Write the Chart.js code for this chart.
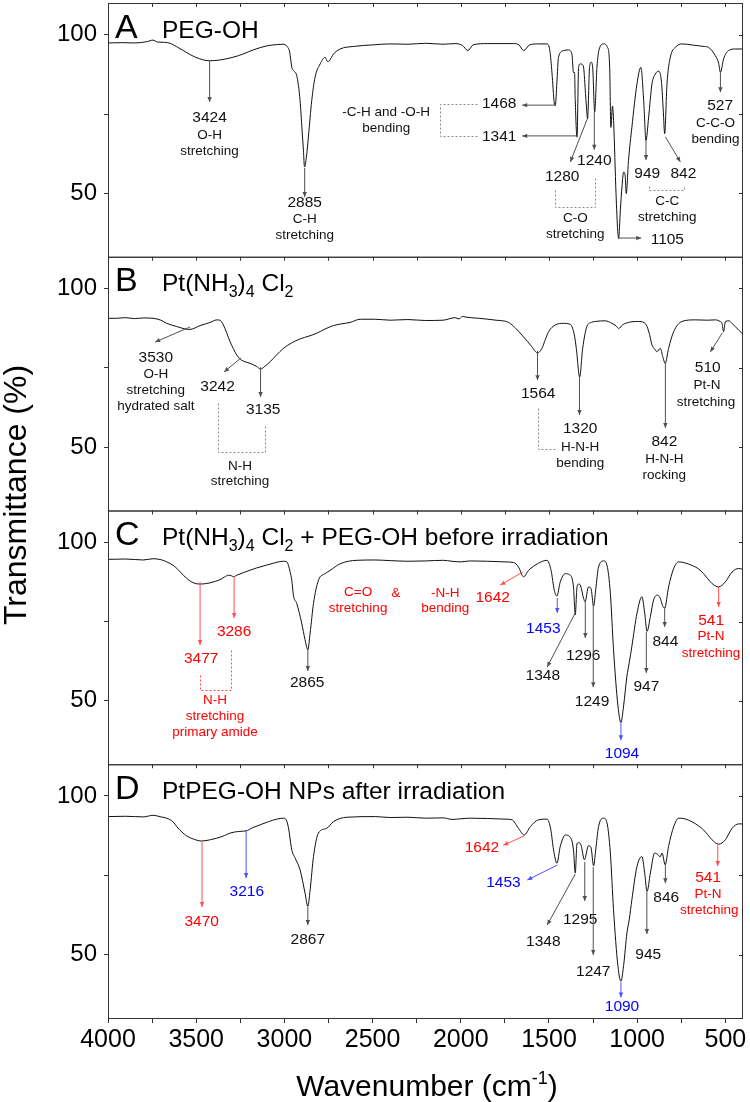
<!DOCTYPE html>
<html>
<head>
<meta charset="utf-8">
<script src="https://cdn.jsdelivr.net/npm/chart.js@4.4.1/dist/chart.umd.min.js"></script>
<style>
  html, body { margin: 0; padding: 0; background: #fff; }
  #wrap { width: 750px; height: 1102px; position: relative; }
</style>
</head>
<body>
<div id="wrap"><canvas id="ftir" width="750" height="1102"></canvas></div>
<script>
// ---- spectra (wavenumber cm-1, transmittance %) ----
const wnA = [4000,3920,3850,3780,3745,3720,3680,3648,3610,3573,3530,3480,3425,3370,3291,3230,3177,3098,3040,3007,2985,2970,2958,2949,2930,2911,2900,2892,2886,2873,2864,2845,2826,2797,2769,2755,2745,2722,2684,2609,2497,2400,2300,2200,2100,2032,1990,1960,1930,1850,1700,1670,1644,1610,1560,1511,1495,1483,1470,1464,1455,1446,1417,1390,1370,1361,1355,1351,1341,1332,1323,1306,1290,1281,1270,1260,1252,1241,1228,1215,1190,1168,1156,1149,1140,1133,1120,1110,1105,1095,1086,1077,1068,1062,1049,1030,1001,979,963,950,935,916,897,878,862,852,844,831,812,784,746,680,620,595,557,538,528,510,482,444,400];
const tA  = [97.4,97.5,97.4,97.8,98.3,97.7,97.6,97.3,96.2,95.0,93.6,92.4,91.8,92.0,92.9,94.0,95.2,96.5,96.9,97.0,96.3,94.5,89.7,88.7,87.1,79.2,70.0,63.5,58.3,62.5,67.7,79.2,86.6,90.8,92.9,91.5,91.8,93.9,95.5,96.3,96.8,97.1,97.0,97.3,97.0,97.2,96.6,95.0,96.8,97.2,97.2,96.8,95.0,96.8,97.1,97.1,95.0,88.0,78.5,77.7,85.0,92.9,95.0,95.2,93.9,88.1,88.1,79.2,67.7,89.7,90.8,90.3,79.2,73.5,89.7,91.3,89.5,75.6,89.7,95.5,97.1,96.0,89.7,70.8,77.5,72.0,50.0,38.0,35.7,45.0,52.0,56.7,55.5,49.9,60.4,70.8,84.5,89.7,79.2,66.7,74.0,84.5,87.6,88.5,85.0,76.0,68.8,84.5,92.9,96.0,97.1,96.7,96.3,96.0,93.4,91.0,88.1,92.4,95.0,95.5,95.5];

const wnB = [4000,3950,3900,3850,3800,3745,3700,3667,3610,3560,3535,3478,3420,3383,3360,3346,3327,3308,3289,3270,3242,3195,3160,3135,3110,3081,3045,3006,2960,2911,2860,2816,2770,2722,2680,2627,2570,2485,2400,2300,2200,2100,2032,2010,1990,1975,1900,1800,1729,1690,1653,1620,1597,1565,1540,1520,1502,1464,1417,1385,1370,1355,1345,1326,1309,1285,1260,1237,1181,1143,1120,1105,1085,1067,992,960,944,930,916,900,888,869,855,841,822,793,746,671,600,557,530,519,510,500,480,462,444,425,406];
const tB  = [90.6,90.6,90.8,90.5,90.7,90.6,90.0,89.0,88.0,87.2,87.1,88.3,89.3,90.1,89.8,88.5,86.0,83.2,81.0,79.0,77.4,76.4,75.5,74.6,75.5,76.9,79.0,81.1,82.8,84.1,85.0,85.9,87.2,88.3,88.8,89.3,90.3,90.3,90.0,90.2,89.9,90.0,90.8,90.4,91.2,91.0,90.6,90.0,89.3,87.5,85.3,83.2,81.6,79.7,81.1,84.0,86.4,88.5,89.0,88.8,88.0,85.0,81.1,72.1,81.1,88.0,89.3,89.6,89.8,89.0,88.2,87.4,88.4,89.0,89.6,89.2,88.0,85.5,82.2,80.8,80.1,81.1,78.5,76.4,81.1,86.4,89.6,90.1,90.0,90.1,89.6,89.0,86.4,89.6,89.8,89.0,88.0,86.9,85.9];

const wnC = [4000,3900,3800,3745,3700,3667,3630,3600,3573,3540,3516,3478,3440,3421,3390,3365,3340,3318,3300,3289,3270,3233,3157,3100,3062,3006,2985,2977,2967,2958,2949,2930,2902,2883,2867,2854,2835,2807,2769,2741,2684,2589,2485,2400,2300,2200,2100,2050,2000,1950,1850,1750,1700,1673,1644,1616,1559,1511,1488,1470,1455,1436,1407,1385,1361,1351,1341,1332,1320,1304,1295,1276,1262,1247,1235,1219,1190,1171,1152,1134,1109,1092,1077,1058,1045,1030,1001,973,958,944,925,907,888,870,856,844,822,793,765,730,690,650,624,600,576,538,500,462,425,400];
const tC  = [94.6,94.7,94.4,94.8,94.5,93.8,92.7,91.2,89.6,88.0,87.2,86.8,87.0,87.2,87.7,88.2,89.0,89.6,89.4,89.1,89.6,90.4,91.9,92.8,93.4,94.0,93.8,92.7,90.5,88.0,83.3,80.7,74.5,69.3,66.1,71.4,80.7,88.0,90.1,91.1,93.2,94.3,94.4,94.2,94.0,94.1,94.3,94.0,93.8,94.1,94.0,93.8,93.6,92.2,89.1,91.1,93.4,94.3,91.1,84.9,83.0,87.5,90.1,89.8,85.9,77.1,85.9,86.8,86.2,82.3,81.3,85.9,85.5,79.9,85.0,92.2,94.1,92.7,83.9,66.1,48.4,43.2,48.4,57.8,62.0,67.2,77.6,82.8,78.0,71.9,76.6,81.8,83.3,82.5,80.0,79.2,85.9,91.7,93.8,93.5,92.7,91.5,90.1,88.5,87.0,85.9,87.5,90.6,91.7,91.5];

const wnD = [4000,3900,3800,3745,3700,3667,3630,3610,3580,3554,3510,3469,3420,3383,3340,3308,3260,3217,3180,3138,3090,3043,3006,2990,2977,2958,2939,2911,2883,2867,2854,2835,2807,2760,2722,2646,2485,2400,2300,2200,2100,2050,2000,1950,1850,1750,1710,1673,1640,1606,1559,1511,1490,1474,1455,1436,1407,1385,1361,1351,1341,1330,1318,1299,1276,1262,1247,1235,1219,1190,1171,1152,1134,1109,1092,1077,1058,1045,1030,1001,973,958,944,925,901,882,870,859,841,822,793,765,730,690,650,624,600,576,538,500,462,425,400];
const tD  = [93.5,93.6,93.4,93.9,93.4,93.0,91.8,90.3,88.6,87.4,86.3,85.8,86.2,86.7,87.5,88.3,88.8,89.0,90.0,90.9,91.9,92.7,93.0,92.5,90.0,83.0,80.4,76.7,69.4,65.2,70.4,80.9,88.3,89.8,91.9,93.3,93.5,93.2,93.3,93.0,93.1,92.6,92.8,93.0,92.9,92.7,92.5,89.8,87.7,90.3,92.5,92.7,89.5,83.0,78.8,84.1,87.7,87.3,83.0,75.7,85.0,85.3,84.5,79.9,84.3,83.8,78.0,83.0,90.3,93.0,91.5,82.0,64.1,46.3,41.6,46.5,56.8,61.0,67.3,77.8,80.9,76.0,69.9,75.7,82.0,81.5,80.8,82.0,78.3,84.1,90.3,93.0,92.8,91.9,90.5,89.3,87.8,86.2,84.8,86.2,89.8,91.2,91.2];

const xTicks = [4000,3750,3500,3250,3000,2750,2500,2250,2000,1750,1500,1250,1000,750,500];
const yTicks = [50,75,100];

// panel headings: [text, subscript?]
const titleA = [['PEG-OH',0]];
const titleB = [['Pt(NH',0],['3',1],[')',0],['4',1],[' Cl',0],['2',1]];
const titleC = titleB.concat([[' + PEG-OH before irradiation',0]]);
const titleD = [['PtPEG-OH NPs after irradiation',0]];

// peak assignments: a = arrow, n = number, d = description, p = dotted bracket; last item colour
const notesA = [
  ['a',3424,91.7,3424,78.8],['n',3424,73.7,'3424'],['d',3424,68.4,'O-H'],['d',3424,63.3,'stretching'],
  ['a',2885,58.0,2885,48.8],['n',2885,46.9,'2885'],['d',2885,41.9,'C-H'],['d',2885,36.9,'stretching'],
  ['d',2423,75.6,'-C-H and -O-H'],['d',2423,70.6,'bending'],
  ['p',[1907,78.2,2117,78.2,2117,68.1,1907,68.1]],
  ['n',1782,78.4,'1468'],['a',1466,77.8,1652,77.8],
  ['n',1782,67.9,'1341'],['a',1345,68.1,1652,68.1],
  ['a',1283,73.4,1379,59.9],['n',1425,55.1,'1280'],
  ['a',1243,75.6,1243,63.7],['n',1243,60.2,'1240'],
  ['p',[1464,51.0,1464,45.7,1238,45.7,1238,55.1]],
  ['d',1351,42.2,'C-O'],['d',1351,37.2,'stretching'],
  ['a',1107,35.9,977,35.9],['n',829,35.3,'1105'],
  ['a',950,66.8,950,60.5],['n',943,56.1,'949'],
  ['a',840,67.8,755,59.9],['n',738,56.1,'842'],
  ['p',[931,52.3,931,51.0,733,51.0,733,52.3]],
  ['d',829,47.6,'C-C'],['d',829,42.5,'stretching'],
  ['a',528,88.2,528,81.9],['n',530,77.5,'527'],['d',556,72.2,'C-C-O'],['d',556,67.1,'bending']
];
const notesB = [
  ['a',3535,87.85,3733,83.1],['n',3729,78.1,'3530'],['d',3729,73.1,'O-H'],['d',3729,68.0,'stretching'],['d',3729,63.0,'hydrated salt'],
  ['a',3246,78.1,3342,73.7],['n',3379,69.0,'3242'],
  ['a',3135,75.2,3135,65.8],['n',3120,61.7,'3135'],
  ['p',[3376,63.9,3376,48.4,3109,48.4,3109,57.0]],
  ['d',3251,44.0,'N-H'],['d',3251,39.3,'stretching'],
  ['a',1565,80.3,1565,71.1],['n',1561,66.7,'1564'],
  ['p',[1561,62.3,1561,49.4,1464,49.4]],
  ['a',1327,72.7,1327,60.1],['n',1323,55.7,'1320'],['d',1323,50.0,'H-N-H'],['d',1323,45.0,'bending'],
  ['a',840,76.8,840,56.0],['n',846,51.6,'842'],['d',846,46.2,'H-N-H'],['d',846,41.2,'rocking'],
  ['a',517,86.0,585,80.0],['n',600,74.9,'510'],['d',604,69.6,'Pt-N'],['d',610,64.2,'stretching']
];
const notesC = [
  ['a',3478,87.5,3478,67.6,'r'],['n',3472,63.2,'3477','r'],
  ['a',3285,89.3,3285,76.1,'r'],['n',3285,71.7,'3286','r'],
  ['p',[3302,66.0,3302,53.4,3478,53.4,3478,58.4],'r'],
  ['d',3393,50.2,'N-H','r'],['d',3393,45.2,'stretching','r'],['d',3393,40.2,'primary amide','r'],
  ['a',2867,66.3,2867,59.4],['n',2871,55.6,'2865'],
  ['d',2582,84.3,'C=O','r'],['d',2582,79.3,'stretching','r'],
  ['d',2368,84.0,'&','r'],
  ['d',2088,84.0,'-N-H','r'],['d',2088,79.3,'bending','r'],
  ['a',1648,90.6,1776,86.5,'r'],['n',1819,82.4,'1642','r'],
  ['a',1453,82.4,1453,77.7,'b'],['n',1532,72.6,'1453','b'],
  ['a',1351,77.7,1510,60.7],['n',1535,57.8,'1348'],
  ['a',1294,81.8,1294,69.8],['n',1306,64.1,'1296'],
  ['a',1249,80.5,1249,54.3],['n',1256,49.6,'1249'],
  ['a',1092,43.3,1092,37.6,'b'],['n',1086,33.2,'1094','b'],
  ['a',948,71.7,948,58.8],['n',948,54.4,'947'],
  ['a',844,79.6,844,73.3],['n',840,68.5,'844'],
  ['a',538,85.9,538,79.6,'r'],['n',581,75.2,'541','r'],['d',581,70.2,'Pt-N','r'],['d',581,65.1,'stretching','r']
];
const notesD = [
  ['a',3467,85.8,3467,65.0,'r'],['n',3469,60.3,'3470','r'],
  ['a',3217,89.0,3217,74.1,'b'],['n',3213,69.7,'3216','b'],
  ['a',2867,65.0,2867,59.3],['n',2867,54.6,'2867'],
  ['a',1640,87.4,1759,84.5,'r'],['n',1880,83.6,'1642','r'],
  ['a',1453,78.2,1623,73.5,'b'],['n',1758,72.5,'1453','b'],
  ['a',1351,75.4,1510,59.3],['n',1532,54.0,'1348'],
  ['a',1297,79.2,1297,66.9],['n',1323,60.9,'1295'],
  ['a',1249,77.6,1249,49.9],['n',1249,44.5,'1247'],
  ['a',1092,41.3,1092,36.5,'b'],['n',1086,33.4,'1090','b'],
  ['a',945,69.7,945,56.5],['n',937,49.9,'945'],
  ['a',840,78.2,840,72.5],['n',835,67.8,'846'],
  ['a',543,84.5,543,77.9,'r'],['n',598,74.1,'541','r'],['d',598,69.1,'Pt-N','r'],['d',591,64.0,'stretching','r']
];

const FONT = '"Liberation Sans", Arial, Helvetica, sans-serif';
const textInk = {k: '#111', r: '#ff0000', b: '#0000ff'};
const lineInk = {k: '#505050', r: '#ff5050', b: '#5050ff'};

const panels = [
  {id: 'yA', letter: 'A', title: titleA, notes: notesA},
  {id: 'yB', letter: 'B', title: titleB, notes: notesB},
  {id: 'yC', letter: 'C', title: titleC, notes: notesC},
  {id: 'yD', letter: 'D', title: titleD, notes: notesD}
];

function pts(wn, t) { return wn.map((w, i) => ({x: w, y: t[i]})); }

function arrow(ctx, x1, y1, x2, y2, col) {
  ctx.strokeStyle = col; ctx.fillStyle = col; ctx.lineWidth = 1;
  ctx.beginPath(); ctx.moveTo(x1, y1); ctx.lineTo(x2, y2); ctx.stroke();
  const a = Math.atan2(y2 - y1, x2 - x1), L = 5, W = 2.2;
  ctx.beginPath();
  ctx.moveTo(x2, y2);
  ctx.lineTo(x2 - L * Math.cos(a) + W * Math.sin(a), y2 - L * Math.sin(a) - W * Math.cos(a));
  ctx.lineTo(x2 - L * Math.cos(a) - W * Math.sin(a), y2 - L * Math.sin(a) + W * Math.cos(a));
  ctx.closePath(); ctx.fill();
}

const panelPlugin = {
  id: 'panels',
  afterDraw(chart) {
    const ctx = chart.ctx, xs = chart.scales.x, area = chart.chartArea;
    ctx.save();
    panels.forEach(p => {
      const ys = chart.scales[p.id];
      const top = ys.top, bot = ys.bottom;
      // frame
      ctx.strokeStyle = '#333'; ctx.lineWidth = 1;
      ctx.strokeRect(area.left + 0.5, top + 0.5, area.right - area.left - 1, bot - top);
      // inner ticks on top and right
      ctx.beginPath();
      xTicks.forEach(v => {
        const x = Math.round(xs.getPixelForValue(v)) + 0.5;
        ctx.moveTo(x, top); ctx.lineTo(x, top + 4);
      });
      yTicks.forEach(v => {
        const y = Math.round(ys.getPixelForValue(v)) + 0.5;
        ctx.moveTo(area.right, y); ctx.lineTo(area.right - 4, y);
      });
      ctx.stroke();
      // heading
      ctx.fillStyle = '#000'; ctx.textBaseline = 'alphabetic'; ctx.textAlign = 'left';
      ctx.font = '34px ' + FONT;
      ctx.fillText(p.letter, area.left + 7, top + 34.5);
      let x = area.left + 54;
      p.title.forEach(([s, sub]) => {
        ctx.font = (sub ? '16px ' : '24.5px ') + FONT;
        ctx.fillText(s, x, top + 34.5 + (sub ? 6 : 0));
        x += ctx.measureText(s).width;
      });
      // assignments
      ctx.textAlign = 'center'; ctx.textBaseline = 'middle';
      p.notes.forEach(n => {
        const kind = n[0];
        if (kind === 'a') {
          const c = n[5] || 'k';
          arrow(ctx, xs.getPixelForValue(n[1]), ys.getPixelForValue(n[2]),
                xs.getPixelForValue(n[3]), ys.getPixelForValue(n[4]), lineInk[c]);
        } else if (kind === 'p') {
          const c = n[2] || 'k', q = n[1];
          ctx.save();
          ctx.strokeStyle = c === 'k' ? '#8a8a8a' : lineInk[c];
          ctx.lineWidth = 1; ctx.setLineDash([2, 2]);
          ctx.beginPath();
          for (let i = 0; i < q.length; i += 2) {
            const px = Math.round(xs.getPixelForValue(q[i])) + 0.5;
            const py = Math.round(ys.getPixelForValue(q[i + 1])) + 0.5;
            if (i === 0) ctx.moveTo(px, py); else ctx.lineTo(px, py);
          }
          ctx.stroke();
          ctx.restore();
        } else {
          const c = n[4] || 'k';
          ctx.fillStyle = textInk[c];
          ctx.font = (kind === 'n' ? '15.5px ' : '13.5px ') + FONT;
          ctx.fillText(n[3], xs.getPixelForValue(n[1]), ys.getPixelForValue(n[2]));
        }
      });
    });
    // axis titles
    ctx.fillStyle = '#000';
    ctx.save();
    ctx.translate(26, 495);
    ctx.rotate(-Math.PI / 2);
    ctx.textAlign = 'center'; ctx.textBaseline = 'alphabetic';
    ctx.font = '32px ' + FONT;
    ctx.fillText('Transmittance (%)', 0, 0);
    ctx.restore();

    ctx.textAlign = 'left'; ctx.textBaseline = 'alphabetic';
    const main = 'Wavenumber (cm', sup = '-1', tail = ')';
    ctx.font = '30px ' + FONT; const w1 = ctx.measureText(main).width, w3 = ctx.measureText(tail).width;
    ctx.font = '18px ' + FONT; const w2 = ctx.measureText(sup).width;
    let tx = 427 - (w1 + w2 + w3) / 2;
    const by = 1096;
    ctx.font = '30px ' + FONT; ctx.fillText(main, tx, by); tx += w1;
    ctx.font = '18px ' + FONT; ctx.fillText(sup, tx, by - 12); tx += w2;
    ctx.font = '30px ' + FONT; ctx.fillText(tail, tx, by);
    ctx.restore();
  }
};

function yScale() {
  return {
    type: 'linear', position: 'left', stack: 'ftir', stackWeight: 1,
    min: 30, max: 110,
    afterBuildTicks: s => { s.ticks = yTicks.map(v => ({value: v})); },
    afterFit: s => { s.width = 108; s.paddingTop = 0; s.paddingBottom = 0; },
    ticks: {
      color: '#000', padding: 7, font: {family: FONT, size: 24},
      callback: v => (v === 75 ? '' : v)
    },
    grid: {drawOnChartArea: false, drawTicks: true, tickLength: 4, color: '#333'},
    border: {display: false}
  };
}

const line = (id, wn, t) => ({
  data: pts(wn, t), yAxisID: id,
  borderColor: '#111', borderWidth: 1, pointRadius: 0,
  cubicInterpolationMode: 'monotone', fill: false
});

new Chart(document.getElementById('ftir'), {
  type: 'line',
  data: {
    datasets: [line('yA', wnA, tA), line('yB', wnB, tB), line('yC', wnC, tC), line('yD', wnD, tD)]
  },
  options: {
    responsive: false, animation: false, devicePixelRatio: 1,
    layout: {padding: {left: 0, right: 7, top: 3, bottom: 0}},
    plugins: {legend: {display: false}, tooltip: {enabled: false}},
    scales: {
      x: {
        type: 'linear', min: 400, max: 4000, reverse: true,
        afterBuildTicks: s => { s.ticks = xTicks.map(v => ({value: v})); },
        afterFit: s => { s.height = 84; s.paddingLeft = 0; s.paddingRight = 0; },
        ticks: {
          color: '#000', padding: 2, autoSkip: false, maxRotation: 0,
          font: {family: FONT, size: 25},
          callback: v => (v % 500 === 0 ? v : '')
        },
        grid: {drawOnChartArea: false, drawTicks: true, tickLength: 5, color: '#333'},
        border: {display: false}
      },
      yD: yScale(),
      yC: yScale(),
      yB: yScale(),
      yA: yScale()
    }
  },
  plugins: [panelPlugin]
});
</script>
</body>
</html>
